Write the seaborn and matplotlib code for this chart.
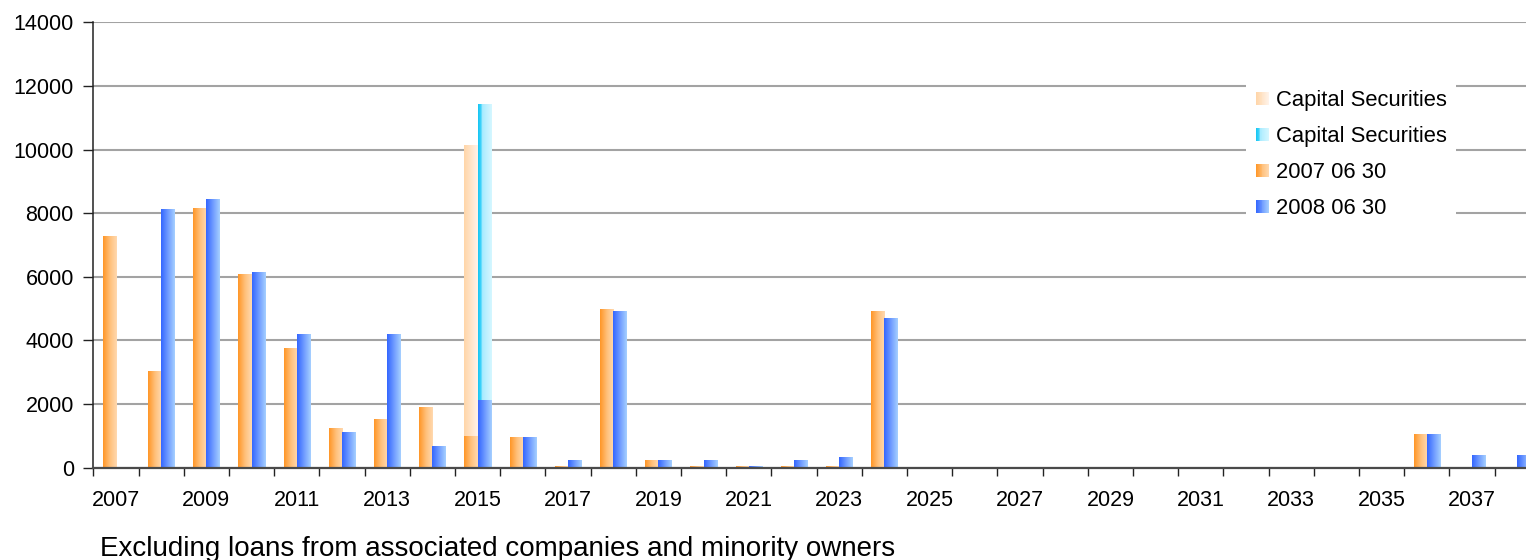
import numpy as np
import pandas as pd
import matplotlib
matplotlib.use("Agg")
import matplotlib.pyplot as plt
import seaborn as sns
from matplotlib.colors import LinearSegmentedColormap
from matplotlib.legend_handler import HandlerBase
from matplotlib.patches import Rectangle
from matplotlib.ticker import FixedLocator, NullFormatter

# ---- data: maturity profile (MSEK) ----
years = [str(y) for y in range(2007, 2039)]
debt_2007 = [7280, 3040, 8170, 6090, 3760, 1250, 1530, 1910, 1000, 960,
             50, 4990, 240, 50, 50, 50, 50, 4930,
             0, 0, 0, 0, 0, 0, 0, 0, 0, 0, 0,
             1060, 0, 0]
debt_2008 = [0, 8130, 8450, 6150, 4200, 1120, 4200, 680, 2130, 960,
             240, 4930, 240, 240, 50, 240, 340, 4710,
             0, 0, 0, 0, 0, 0, 0, 0, 0, 0, 0,
             1060, 400, 400]
capsec_2007 = [0] * 8 + [9150] + [0] * 23
capsec_2008 = [0] * 8 + [9310] + [0] * 23

series = ["2007 06 30", "2008 06 30"]
legend_labels = ["Capital Securities", "Capital Securities", "2007 06 30", "2008 06 30"]
yticks = [0, 2000, 4000, 6000, 8000, 10000, 12000, 14000]
footnote = "Excluding loans from associated companies and minority owners"

base = pd.DataFrame({
    "year": years * 2,
    "series": [series[0]] * len(years) + [series[1]] * len(years),
    "value": debt_2007 + debt_2008,
    "capital": capsec_2007 + capsec_2008,
})
base["total"] = base["value"] + base["capital"]

# ---- colour ramps (left -> right across each bar) ----
cm_orange = LinearSegmentedColormap.from_list("o", ["#ff9626", "#ffc07a", "#ffd9b0"])
cm_blue = LinearSegmentedColormap.from_list("b", ["#3366ff", "#6f9bff", "#a6d0ff"])
cm_peach = LinearSegmentedColormap.from_list("p", ["#ffd5a8", "#ffe4c8", "#fff3ea"])
cm_cyan = LinearSegmentedColormap.from_list(
    "c", [(0, "#14c4f2"), (0.22, "#3fd4fb"), (0.3, "#a8ebff"), (1, "#d6f7ff")])

sns.set_style("white")
plt.rcParams["font.family"] = ["Liberation Sans", "DejaVu Sans"]

W, H = 1526, 560
fig = plt.figure(figsize=(W / 100, H / 100), dpi=100)
x0_px, top_px, bot_px = 93.3, 22.3, 467.7
ax = fig.add_axes([x0_px / W, 1 - bot_px / H, (W - x0_px) / W, (bot_px - top_px) / H])

# totals incl. capital securities first, regular debt drawn on top of them
sns.barplot(data=base, x="year", y="total", hue="series", hue_order=series,
            order=years, width=0.58, gap=0, errorbar=None, dodge=True,
            legend=False, ax=ax, zorder=2)
sns.barplot(data=base, x="year", y="value", hue="series", hue_order=series,
            order=years, width=0.58, gap=0, errorbar=None, dodge=True,
            legend=False, ax=ax, zorder=3)

ramps = [cm_peach, cm_cyan, cm_orange, cm_blue]
grad = np.linspace(0, 1, 128).reshape(1, -1)
for cont, cmap, z in zip(ax.containers, ramps, [2, 2, 3, 3]):
    for p in cont.patches:
        x, y, w, h = p.get_x(), p.get_y(), p.get_width(), p.get_height()
        p.set_facecolor("none")
        p.set_edgecolor("none")
        if h <= 0:
            continue
        ax.imshow(grad, cmap=cmap, extent=(x, x + w, y, y + h), aspect="auto",
                  origin="lower", interpolation="bilinear", zorder=z)

ax.set_xlim(-0.5, 30.5 + (W - 1494.7) / 45.2)
ax.set_ylim(0, 14000)
ax.set_xlabel("")
ax.set_ylabel("")

# axes styling
for s in ["top", "right"]:
    ax.spines[s].set_visible(False)
ax.spines["left"].set_color("#222222")
ax.spines["left"].set_linewidth(1.1)
ax.spines["bottom"].set_color("#4a4a4a")
ax.spines["bottom"].set_linewidth(1.6)
ax.spines["bottom"].set_zorder(5)

ax.set_yticks(yticks)
ax.set_yticklabels([str(v) for v in yticks])
ax.yaxis.grid(True, color="#a3a3a3", linewidth=1.5, zorder=0)
ax.set_axisbelow(True)
ax.tick_params(axis="y", which="major", direction="out", length=7, width=1,
               color="#222222", pad=7, labelsize=15.5, labelcolor="black", left=True)

label_pos = list(range(0, 31, 2))
ax.xaxis.set_major_locator(FixedLocator(label_pos))
ax.set_xticklabels([years[i] for i in label_pos])
ax.xaxis.set_minor_locator(FixedLocator(np.arange(-0.5, 31.5, 1.0)))
ax.xaxis.set_minor_formatter(NullFormatter())
ax.tick_params(axis="x", which="major", length=0, pad=16, labelsize=15.5,
               labelcolor="black", bottom=True)
ax.tick_params(axis="x", which="minor", direction="out", length=6, width=1,
               color="#222222", bottom=True)


class GradientSwatch(HandlerBase):
    def __init__(self, cmap, n=14):
        super().__init__()
        self.cmap = cmap
        self.n = n

    def create_artists(self, legend, orig_handle, xdescent, ydescent,
                       width, height, fontsize, trans):
        side = min(width, height)
        x_start = -xdescent
        y_start = -ydescent + (height - side) / 2
        arts = []
        step = side / self.n
        for i in range(self.n):
            arts.append(Rectangle((x_start + i * step, y_start), step * 1.05, side,
                                  facecolor=self.cmap((i + 0.5) / self.n),
                                  edgecolor="none", transform=trans))
        return arts


handles = [Rectangle((0, 0), 1, 1) for _ in ramps]
leg = fig.legend(handles, legend_labels,
                 handler_map={h: GradientSwatch(c) for h, c in zip(handles, ramps)},
                 loc="upper left", bbox_to_anchor=(1246 / W, 1 - 80 / H),
                 bbox_transform=fig.transFigure, frameon=True, fancybox=False,
                 facecolor="white", edgecolor="none", framealpha=1,
                 fontsize=15.8, handlelength=0.6, handleheight=0.6,
                 handletextpad=0.3, labelspacing=0.69, borderpad=0.45,
                 borderaxespad=0)
leg.set_zorder(10)
for t in leg.get_texts():
    t.set_color("black")

fig.text(100 / W, 1 - 549 / H, footnote, fontsize=20.0, color="black",
         ha="left", va="center")

fig.savefig("out.png", dpi=100)
